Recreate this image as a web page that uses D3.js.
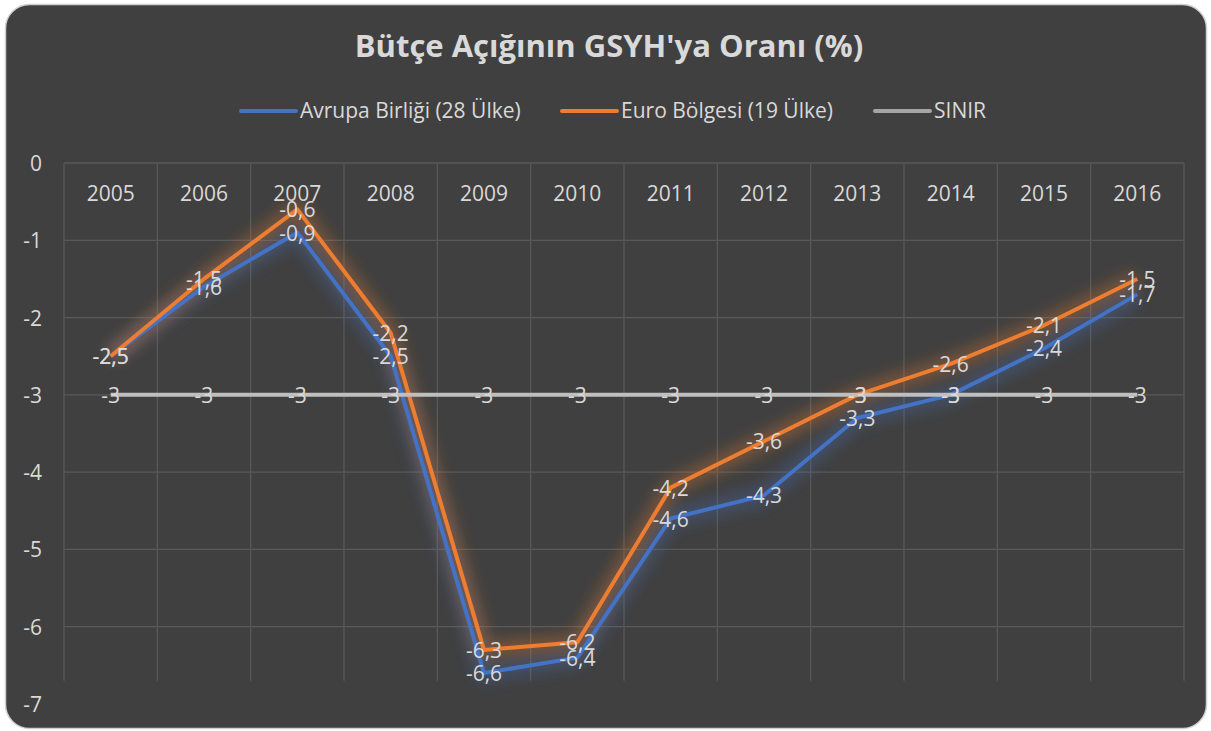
<!DOCTYPE html>
<html lang="tr">
<head>
<meta charset="utf-8">
<title>Bütçe Açığı</title>
<script src="https://cdn.jsdelivr.net/npm/d3@7"></script>
<style>
  body { margin: 0; background: #ffffff; }
  text { font-family: "Open Sans", sans-serif; }
</style>
</head>
<body>
<script>
// yıllar ve seriler
var years = ["2005","2006","2007","2008","2009","2010","2011","2012","2013","2014","2015","2016"];
var ab = [-2.5, -1.6, -0.9, -2.5, -6.6, -6.4, -4.6, -4.3, -3.3, -3.0, -2.4, -1.7];
var euro = [-2.5, -1.5, -0.6, -2.2, -6.3, -6.2, -4.2, -3.6, -3.0, -2.6, -2.1, -1.5];
var sinir = [-3, -3, -3, -3, -3, -3, -3, -3, -3, -3, -3, -3];
var yTicks = [0, -1, -2, -3, -4, -5, -6, -7];

var seriesNames = ["Avrupa Birliği (28 Ülke)", "Euro Bölgesi (19 Ülke)", "SINIR"];
var colors = ["#4472c4", "#ed7d31", "#bfbfbf"];

var width = 1211, height = 731;
var textCol = "#d9d9d9";
var fs = "21px";

var svg = d3.select("body").append("svg")
    .attr("width", width)
    .attr("height", height);

var defs = svg.append("defs");
defs.append("filter")
    .attr("id", "glow")
    .attr("x", "-10%").attr("y", "-30%")
    .attr("width", "120%").attr("height", "160%")
    .append("feGaussianBlur")
    .attr("stdDeviation", 7);

// arka plan
svg.append("rect")
    .attr("x", 5.5).attr("y", 4.5)
    .attr("width", 1201).attr("height", 724)
    .attr("rx", 24).attr("ry", 24)
    .attr("fill", "#404040")
    .attr("stroke", "#d0d0d0")
    .attr("stroke-width", 1.5);

var x = d3.scaleBand().domain(years).range([64, 1184]).padding(0);
var y = d3.scaleLinear().domain([-7, 0]).range([704, 163]);
var cx = function(d) { return x(d) + x.bandwidth() / 2; };

// başlık
svg.append("text")
    .attr("x", 609).attr("y", 57)
    .attr("text-anchor", "middle")
    .attr("fill", textCol)
    .attr("font-weight", "bold")
    .style("font-size", "31px")
    .text("Bütçe Açığının GSYH'ya Oranı (%)");

// legend
var legX = [241, 562, 875];
seriesNames.forEach(function(name, i) {
    svg.append("line")
        .attr("x1", legX[i]).attr("x2", legX[i] + 55)
        .attr("y1", 111).attr("y2", 111)
        .attr("stroke", colors[i] == "#bfbfbf" ? "#a5a5a5" : colors[i])
        .attr("stroke-width", 4)
        .attr("stroke-linecap", "round");
    svg.append("text")
        .attr("x", legX[i] + 59).attr("y", 118)
        .attr("fill", textCol)
        .style("font-size", fs)
        .text(name);
});

// ızgara
var grid = svg.append("g");
yTicks.slice(0, 7).forEach(function(t) {
    grid.append("line")
        .attr("x1", 64).attr("x2", 1184)
        .attr("y1", y(t)).attr("y2", y(t))
        .attr("stroke", "#595959")
        .attr("stroke-width", 1.3);
});
years.concat(["end"]).forEach(function(d, i) {
    var xx = i < years.length ? x(d) : 1184;
    grid.append("line")
        .attr("x1", xx).attr("x2", xx)
        .attr("y1", y(0)).attr("y2", y(-6.7))
        .attr("stroke", "#595959")
        .attr("stroke-width", 1.3);
});

// y ekseni etiketleri
svg.append("g").selectAll("text")
    .data(yTicks)
    .join("text")
    .attr("x", 42)
    .attr("y", function(d) { return y(d) + 8; })
    .attr("text-anchor", "end")
    .attr("fill", textCol)
    .style("font-size", fs)
    .text(function(d) { return d; });

// kategori etiketleri
svg.append("g").selectAll("text")
    .data(years)
    .join("text")
    .attr("x", cx)
    .attr("y", 201)
    .attr("text-anchor", "middle")
    .attr("fill", textCol)
    .style("font-size", fs)
    .text(function(d) { return d; });

var line = d3.line()
    .x(function(d, i) { return cx(years[i]); })
    .y(function(d) { return y(d); });

var allSeries = [ab, euro, sinir];

// parıltı
allSeries.forEach(function(s, i) {
    svg.append("path")
        .datum(s)
        .attr("d", line)
        .attr("fill", "none")
        .attr("stroke", colors[i])
        .attr("stroke-width", 18)
        .attr("stroke-opacity", i == 2 ? 0.2 : 0.3)
        .attr("stroke-linejoin", "round")
        .attr("filter", "url(#glow)");
});

allSeries.forEach(function(s, i) {
    svg.append("path")
        .datum(s)
        .attr("d", line)
        .attr("fill", "none")
        .attr("stroke", colors[i])
        .attr("stroke-width", 4)
        .attr("stroke-linejoin", "round");
});

// veri etiketleri
var fmt = function(v) { return String(v).replace(".", ","); };
allSeries.forEach(function(s, i) {
    svg.append("g").selectAll("text")
        .data(s)
        .join("text")
        .attr("x", function(d, j) { return cx(years[j]); })
        .attr("y", function(d) { return y(d) + 8; })
        .attr("text-anchor", "middle")
        .attr("fill", textCol)
        .style("font-size", fs)
        .text(fmt);
});
</script>
</body>
</html>
